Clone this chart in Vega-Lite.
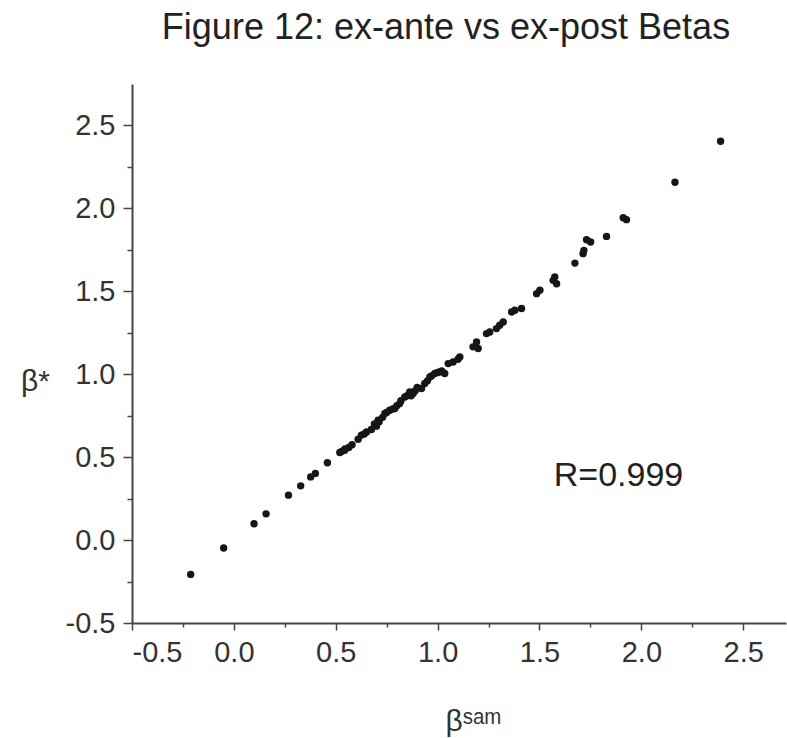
{
  "$schema": "https://vega.github.io/schema/vega-lite/v6.json",
  "width": 654,
  "height": 539,
  "autosize": "none",
  "padding": {"left": 132, "top": 84, "right": 1, "bottom": 115},
  "background": "white",
  "title": {
    "text": "Figure 12: ex-ante vs ex-post Betas",
    "font": "Liberation Sans",
    "fontSize": 36,
    "fontWeight": "normal",
    "color": "#222222",
    "anchor": "middle",
    "baseline": "alphabetic",
    "offset": 9,
    "dx": -13
  },
  "config": {
    "view": {"stroke": null},
    "axis": {
      "grid": false,
      "domainColor": "#444444",
      "domainWidth": 2,
      "tickColor": "#444444",
      "tickWidth": 1.5,
      "labelFont": "Liberation Sans",
      "labelFontSize": 29,
      "labelColor": "#333333",
      "titleFont": "Liberation Sans",
      "titleFontSize": 30,
      "titleFontWeight": "normal",
      "titleColor": "#333333"
    }
  },
  "layer": [
    {
      "data": {
        "values": [
          {"x": -0.212, "y": -0.207}, {"x": -0.05, "y": -0.048}, {"x": 0.099, "y": 0.098},
          {"x": 0.158, "y": 0.158}, {"x": 0.268, "y": 0.271}, {"x": 0.328, "y": 0.327},
          {"x": 0.377, "y": 0.381}, {"x": 0.4, "y": 0.402}, {"x": 0.459, "y": 0.466},
          {"x": 0.52, "y": 0.528}, {"x": 0.53, "y": 0.535}, {"x": 0.544, "y": 0.542},
          {"x": 0.545, "y": 0.55}, {"x": 0.564, "y": 0.558}, {"x": 0.58, "y": 0.575},
          {"x": 0.61, "y": 0.608}, {"x": 0.626, "y": 0.633}, {"x": 0.64, "y": 0.64},
          {"x": 0.651, "y": 0.652}, {"x": 0.675, "y": 0.667}, {"x": 0.69, "y": 0.7},
          {"x": 0.7, "y": 0.687}, {"x": 0.713, "y": 0.713}, {"x": 0.708, "y": 0.723},
          {"x": 0.73, "y": 0.74}, {"x": 0.741, "y": 0.763}, {"x": 0.75, "y": 0.77},
          {"x": 0.765, "y": 0.783}, {"x": 0.78, "y": 0.79}, {"x": 0.79, "y": 0.793},
          {"x": 0.8, "y": 0.81}, {"x": 0.814, "y": 0.823}, {"x": 0.82, "y": 0.84},
          {"x": 0.839, "y": 0.863}, {"x": 0.85, "y": 0.87}, {"x": 0.863, "y": 0.893},
          {"x": 0.87, "y": 0.87}, {"x": 0.88, "y": 0.884}, {"x": 0.89, "y": 0.9},
          {"x": 0.9, "y": 0.92}, {"x": 0.921, "y": 0.914}, {"x": 0.937, "y": 0.944},
          {"x": 0.95, "y": 0.96}, {"x": 0.962, "y": 0.984}, {"x": 0.97, "y": 0.99},
          {"x": 0.986, "y": 1.004}, {"x": 1.0, "y": 1.01}, {"x": 1.011, "y": 1.014},
          {"x": 1.02, "y": 1.02}, {"x": 1.035, "y": 1.004}, {"x": 1.052, "y": 1.064},
          {"x": 1.076, "y": 1.074}, {"x": 1.1, "y": 1.09}, {"x": 1.109, "y": 1.104},
          {"x": 1.174, "y": 1.165}, {"x": 1.191, "y": 1.195}, {"x": 1.199, "y": 1.155},
          {"x": 1.24, "y": 1.245}, {"x": 1.256, "y": 1.255}, {"x": 1.289, "y": 1.275},
          {"x": 1.305, "y": 1.295}, {"x": 1.322, "y": 1.315}, {"x": 1.363, "y": 1.375},
          {"x": 1.379, "y": 1.386}, {"x": 1.412, "y": 1.396}, {"x": 1.486, "y": 1.486},
          {"x": 1.502, "y": 1.506}, {"x": 1.567, "y": 1.566}, {"x": 1.584, "y": 1.546},
          {"x": 1.575, "y": 1.586}, {"x": 1.674, "y": 1.67}, {"x": 1.714, "y": 1.727},
          {"x": 1.718, "y": 1.747}, {"x": 1.731, "y": 1.811}, {"x": 1.751, "y": 1.797},
          {"x": 1.829, "y": 1.831}, {"x": 1.911, "y": 1.944}, {"x": 1.927, "y": 1.932},
          {"x": 2.165, "y": 2.158}, {"x": 2.389, "y": 2.405}
        ]
      },
      "mark": {"type": "circle", "size": 55, "color": "#161616", "opacity": 1},
      "encoding": {
        "x": {
          "field": "x",
          "type": "quantitative",
          "scale": {"domain": [-0.5, 2.71], "nice": false, "zero": false},
          "axis": {
            "values": [-0.5, -0.25, 0, 0.25, 0.5, 0.75, 1, 1.25, 1.5, 1.75, 2, 2.25, 2.5],
            "tickSize": {"condition": {"test": "abs(datum.value*2 - round(datum.value*2)) > 0.01", "value": 4}, "value": 7},
            "labelExpr": "abs(datum.value*2 - round(datum.value*2)) > 0.01 ? '' : (datum.value < 0 ? '-' : '') + format(abs(datum.value), '.1f')",
            "labelPadding": 8,
            "title": "βˢᵃᵐ",
            "titleX": 341,
            "titleY": 107,
            "titleAlign": "center",
            "titleBaseline": "alphabetic"
          }
        },
        "y": {
          "field": "y",
          "type": "quantitative",
          "scale": {"domain": [-0.5, 2.75], "nice": false, "zero": false},
          "axis": {
            "values": [-0.5, -0.25, 0, 0.25, 0.5, 0.75, 1, 1.25, 1.5, 1.75, 2, 2.25, 2.5],
            "tickSize": {"condition": {"test": "abs(datum.value*2 - round(datum.value*2)) > 0.01", "value": 5}, "value": 9},
            "labelExpr": "abs(datum.value*2 - round(datum.value*2)) > 0.01 ? '' : (datum.value < 0 ? '-' : '') + format(abs(datum.value), '.1f')",
            "labelPadding": 8,
            "title": "β*",
            "titleAngle": 0,
            "titleX": -97,
            "titleY": 306,
            "titleAlign": "center",
            "titleBaseline": "alphabetic"
          }
        }
      }
    },
    {
      "data": {"values": [{"x": 1.57, "y": 0.385, "label": "R=0.999"}]},
      "mark": {"type": "text", "align": "left", "baseline": "middle", "fontSize": 34, "font": "Liberation Sans", "color": "#222222"},
      "encoding": {
        "x": {"field": "x", "type": "quantitative"},
        "y": {"field": "y", "type": "quantitative"},
        "text": {"field": "label"}
      }
    }
  ]
}
